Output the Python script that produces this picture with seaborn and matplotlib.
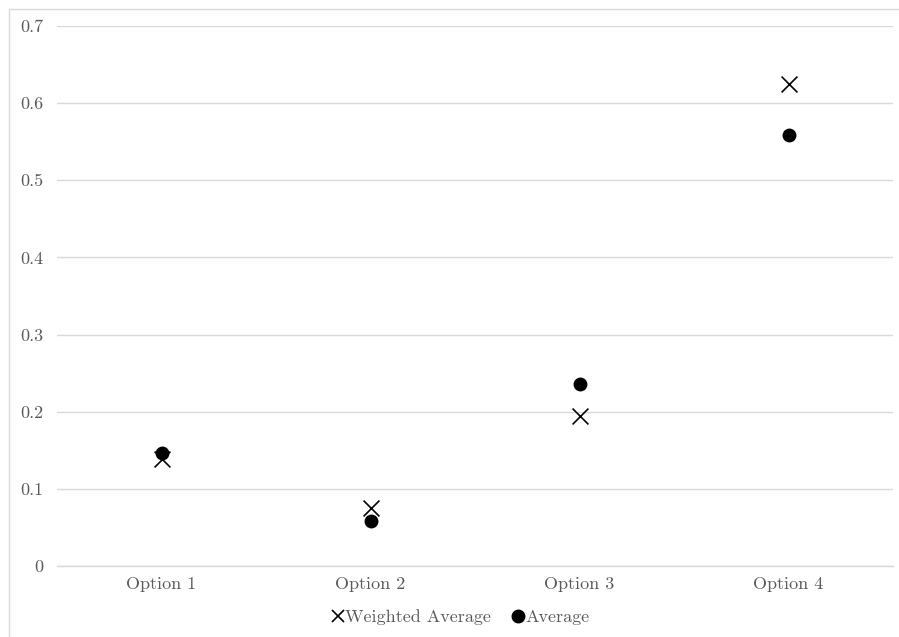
import matplotlib
matplotlib.use("Agg")
import matplotlib.pyplot as plt
from matplotlib.lines import Line2D
from matplotlib.patches import Rectangle
import seaborn as sns
import pandas as pd

categories = ["Option 1", "Option 2", "Option 3", "Option 4"]
weighted_average = [0.139, 0.075, 0.194, 0.625]
average = [0.147, 0.058, 0.236, 0.559]
y_ticks = [0, 0.1, 0.2, 0.3, 0.4, 0.5, 0.6, 0.7]
y_tick_labels = ["0", "0.1", "0.2", "0.3", "0.4", "0.5", "0.6", "0.7"]

sns.set_theme(style="white")
plt.rcParams["font.family"] = ["cmr10", "DejaVu Serif"]
plt.rcParams["axes.formatter.use_mathtext"] = True

text_color = "#595959"
grid_color = "#d9d9d9"
font_size = 13

df = pd.DataFrame({
    "category": categories * 2,
    "pos": list(range(len(categories))) * 2,
    "value": weighted_average + average,
    "series": ["Weighted Average"] * len(categories) + ["Average"] * len(categories),
})

fig = plt.figure(figsize=(8.99, 6.37), dpi=100)
ax = fig.add_axes([57 / 899, 1 - 566 / 637, (893 - 57) / 899, (566 - 26) / 637])

wa = df[df["series"] == "Weighted Average"]
av = df[df["series"] == "Average"]
sns.scatterplot(data=wa, x="pos", y="value", ax=ax, marker="x", color="black",
                s=130, linewidth=1.2, legend=False, zorder=3)
sns.scatterplot(data=av, x="pos", y="value", ax=ax, marker="o", color="black",
                s=100, edgecolor="black", linewidth=0, legend=False, zorder=3)

ax.set_xlim(-0.5, len(categories) - 0.5)
ax.set_ylim(0, 0.7)
ax.set_yticks(y_ticks)
ax.set_yticklabels(y_tick_labels)
ax.set_xticks(range(len(categories)))
ax.set_xticklabels(categories)
ax.set_xlabel("")
ax.set_ylabel("")
ax.tick_params(axis="both", length=0, labelsize=font_size, labelcolor=text_color)
ax.tick_params(axis="y", pad=10)
ax.tick_params(axis="x", pad=8)

ax.grid(axis="y", color=grid_color, linewidth=1)
ax.grid(axis="x", visible=False)
for side in ["left", "right", "top"]:
    ax.spines[side].set_visible(False)
ax.spines["bottom"].set_color(grid_color)
ax.spines["bottom"].set_linewidth(1)
ax.set_axisbelow(True)

handles = [
    Line2D([], [], marker="x", color="black", linestyle="none", markersize=8, markeredgewidth=1.2),
    Line2D([], [], marker="o", color="black", linestyle="none", markersize=9),
]
leg = fig.legend(handles, ["Weighted Average", "Average"], loc="center",
                 bbox_to_anchor=(461 / 899, 1 - 617 / 637), ncol=2, frameon=False,
                 fontsize=font_size, handlelength=0.6, handletextpad=0.1, columnspacing=1.2,
                 labelcolor=text_color)

# outer chart frame
fig.patches.append(Rectangle((9 / 899, -0.1), 1.2, 1 - 9 / 637 + 0.1,
                             transform=fig.transFigure, fill=False,
                             edgecolor=grid_color, linewidth=1))

fig.savefig("out.png", dpi=100, facecolor="white")
